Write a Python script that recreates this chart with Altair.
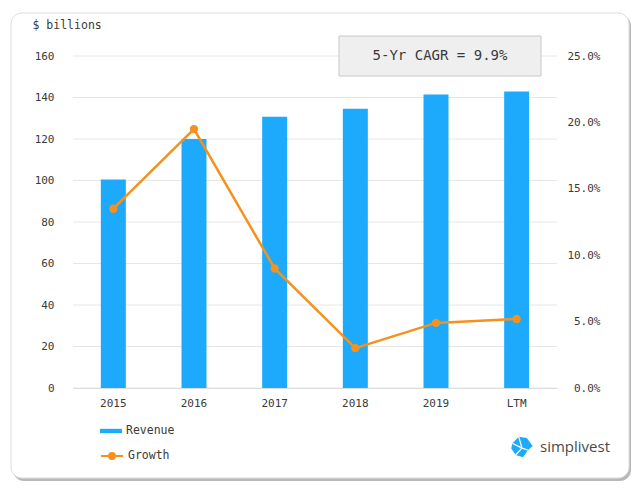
import altair as alt
import pandas as pd

# ---- data ----
years = ["2015", "2016", "2017", "2018", "2019", "LTM"]
revenue = [100.5, 120.0, 130.7, 134.6, 141.5, 142.9]
growth = [0.135, 0.195, 0.090, 0.030, 0.049, 0.052]
left_ticks = [0, 20, 40, 60, 80, 100, 120, 140, 160]
right_ticks = [0.0, 0.05, 0.10, 0.15, 0.20, 0.25]
cagr_label = ["5-Yr CAGR = 9.9%"]
brand_label = ["simplivest"]
unit_label = "$ billions"

BLUE = "#1eaafc"
ORANGE = "#f5921e"
TEXT = "#3a3a3a"
MONO = "DejaVu Sans Mono"

df = pd.DataFrame({
    "year": years,
    "revenue": revenue,
    "growth": growth,
    "s1": ["Revenue"] * len(years),
    "s2": ["Growth"] * len(years),
})
one = pd.DataFrame({"k": [0]})
grid_df = pd.DataFrame({"v": left_ticks})
cagr_df = pd.DataFrame({"t": cagr_label})
brand_df = pd.DataFrame({"t": brand_label})

xenc = alt.X("year:N", sort=years, title=None,
             scale=alt.Scale(paddingInner=0, paddingOuter=0),
             axis=alt.Axis(labelAngle=0, ticks=False, tickSize=0, labelPadding=9,
                           domainColor="#dcdcdc", grid=False, zindex=1))

# card frame
shadow = alt.Chart(one).mark_rect(cornerRadius=11, fill="#b8b8b8").encode(
    x=alt.value(-60), x2=alt.value(558), y=alt.value(-41), y2=alt.value(425))
card = alt.Chart(one).mark_rect(cornerRadius=11, fill="white", stroke="#dedede", strokeWidth=1).encode(
    x=alt.value(-62), x2=alt.value(556), y=alt.value(-43), y2=alt.value(422))

grid = alt.Chart(grid_df).mark_rule(color="#e6e6e6", strokeWidth=1).encode(
    y=alt.Y("v:Q", scale=alt.Scale(domain=[0, 160], nice=False), axis=None))

bars = alt.Chart(df).mark_bar(size=25).encode(
    x=xenc,
    y=alt.Y("revenue:Q", scale=alt.Scale(domain=[0, 160], nice=False),
            axis=alt.Axis(values=left_ticks, orient="left", grid=False, domain=False,
                          ticks=False, tickSize=0, labelPadding=19, zindex=1,
                          title=unit_label, titleAngle=0, titleAlign="left",
                          titleBaseline="middle", titleX=-41, titleY=-31,
                          titleFont=MONO, titleFontSize=11.5, titleFontWeight="normal",
                          titleColor=TEXT)),
    color=alt.Color("s1:N", scale=alt.Scale(domain=["Revenue"], range=[BLUE]),
                    legend=alt.Legend(title=None, orient="none", legendX=27, legendY=364,
                                      symbolType="M-1,-0.2H1V0.2H-1Z", symbolSize=484,
                                      symbolStrokeWidth=0, labelFont=MONO, labelFontSize=11.5,
                                      labelColor=TEXT, labelOffset=4, padding=0)),
)

line = alt.Chart(df).mark_line(
    strokeWidth=2.5,
    point=alt.OverlayMarkDef(filled=True, size=40, color=ORANGE, fill=ORANGE),
).encode(
    x=xenc,
    y=alt.Y("growth:Q", scale=alt.Scale(domain=[0, 0.25], nice=False),
            axis=alt.Axis(values=right_ticks, format=".1%", orient="right", grid=False,
                          domain=False, ticks=False, tickSize=0, labelAlign="right",
                          labelPadding=43, title=None, zindex=1)),
    stroke=alt.Stroke("s2:N", scale=alt.Scale(domain=["Growth"], range=[ORANGE]),
                      legend=alt.Legend(title=None, orient="none", legendX=27, legendY=388,
                                        symbolType="M-1,0H1M-0.27,0a0.27,0.27 0 1,0 0.54,0a0.27,0.27 0 1,0 -0.54,0",
                                        symbolSize=484, symbolStrokeWidth=2,
                                        symbolFillColor=ORANGE, labelFont=MONO,
                                        labelFontSize=11.5, labelColor=TEXT, labelOffset=4,
                                        padding=0)),
)

box = alt.Chart(one).mark_rect(fill="#efefef", stroke="#c8c8c8", strokeWidth=1).encode(
    x=alt.value(266), x2=alt.value(468), y=alt.value(-20), y2=alt.value(20))
box_text = alt.Chart(cagr_df).mark_text(font=MONO, fontSize=14, color=TEXT,
                                         align="center", baseline="middle").encode(
    x=alt.value(367), y=alt.value(0), text="t:N")

icon = alt.Chart(one).mark_point(
    shape="M-0.9,-0.35L-0.3,-0.95L0.45,-0.85L1,-0.1L0.55,0.3L0.1,0.95L-0.6,0.75L-1,0.15Z",
    filled=True, fill=BLUE, size=460, opacity=1, strokeWidth=0).encode(
    x=alt.value(449), y=alt.value(391))
icon_lines = alt.Chart(one).mark_point(
    shape="M-0.3,-0.95L0,0.1L0.55,0.3M0,0.1L-0.9,-0.35M0,0.1L-0.6,0.75",
    filled=False, stroke="white", strokeWidth=1.3, size=460, opacity=1).encode(
    x=alt.value(449), y=alt.value(391))
brand = alt.Chart(brand_df).mark_text(font="Open Sans", fontSize=15, color="#4a4a4a",
                                       align="left", baseline="middle").encode(
    x=alt.value(467), y=alt.value(391), text="t:N")

chart = alt.layer(
    shadow, card, grid, bars, line, box, box_text, icon, icon_lines, brand
).resolve_scale(
    y="independent", color="independent", stroke="independent"
).properties(
    width=484, height=332,
    padding={"left": 73, "top": 56, "right": 83, "bottom": 105},
    autosize=alt.AutoSizeParams(type="none"),
    background="white",
).configure_axis(
    labelFont=MONO, labelFontSize=11, labelColor=TEXT,
).configure_view(stroke=None)

chart.save("out.html", embed_options={"renderer": "svg", "actions": False})
